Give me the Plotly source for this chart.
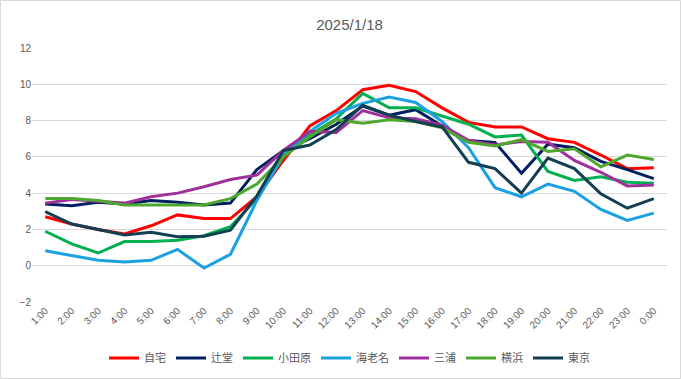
import plotly.graph_objects as go

hours = ["1:00", "2:00", "3:00", "4:00", "5:00", "6:00", "7:00", "8:00", "9:00", "10:00",
         "11:00", "12:00", "13:00", "14:00", "15:00", "16:00", "17:00", "18:00", "19:00",
         "20:00", "21:00", "22:00", "23:00", "0:00"]

jitaku = [2.7, 2.3, 2.0, 1.75, 2.2, 2.8, 2.6, 2.6, 3.8, 5.8, 7.7, 8.55, 9.7, 9.95, 9.6, 8.7,
          7.9, 7.65, 7.65, 7.0, 6.8, 6.1, 5.35, 5.4]
tsujido = [3.4, 3.3, 3.5, 3.4, 3.6, 3.5, 3.35, 3.45, 5.3, 6.35, 7.0, 7.8, 8.8, 8.3, 8.6, 7.7,
           6.9, 6.8, 5.1, 6.7, 6.5, 5.75, 5.3, 4.8]
odawara = [1.9, 1.2, 0.7, 1.33, 1.33, 1.4, 1.65, 2.15, 3.7, 6.0, 7.2, 8.1, 9.5, 8.7, 8.7, 8.25,
           7.8, 7.1, 7.2, 5.2, 4.7, 4.9, 4.6, 4.55]
ebina = [0.82, 0.57, 0.3, 0.2, 0.3, 0.9, -0.13, 0.63, 3.6, 6.1, 7.4, 8.4, 8.95, 9.3, 9.0, 7.95,
         6.5, 4.3, 3.8, 4.5, 4.1, 3.1, 2.5, 2.9]
miura = [3.45, 3.65, 3.55, 3.45, 3.8, 4.0, 4.35, 4.75, 5.0, 6.35, 7.4, 7.35, 8.55, 8.15, 8.1, 7.75,
         6.9, 6.65, 6.85, 6.8, 5.8, 5.15, 4.4, 4.45]
yokohama = [3.7, 3.7, 3.6, 3.35, 3.35, 3.35, 3.35, 3.7, 4.5, 6.0, 7.1, 8.05, 7.85, 8.05, 7.95, 7.6,
            6.8, 6.6, 6.95, 6.3, 6.45, 5.45, 6.1, 5.85]
tokyo = [2.98, 2.3, 2.0, 1.7, 1.85, 1.6, 1.63, 1.96, 3.85, 6.35, 6.65, 7.5, 8.85, 8.3, 7.95, 7.65,
         5.7, 5.35, 4.0, 5.93, 5.35, 3.96, 3.17, 3.7]

series = [
    ("自宅", jitaku, "#ff0000"),
    ("辻堂", tsujido, "#002060"),
    ("小田原", odawara, "#00b050"),
    ("海老名", ebina, "#1ba1e2"),
    ("三浦", miura, "#a0309c"),
    ("横浜", yokohama, "#4ea72e"),
    ("東京", tokyo, "#123f52"),
]

fig = go.Figure()
for name, vals, color in series:
    fig.add_trace(go.Scatter(x=hours, y=vals, name=name, mode="lines",
                             line=dict(color=color, width=3)))

font_family = "Liberation Sans, Noto Sans CJK JP, sans-serif"
L, R, T, B = 32, 14, 48, 77
W, H = 681, 379
pw, ph = W - L - R, H - T - B

fig.update_layout(
    width=W, height=H,
    margin=dict(l=L, r=R, t=T, b=B, autoexpand=False),
    paper_bgcolor="white", plot_bgcolor="white",
    font=dict(family=font_family, color="#595959", size=10),
    title=dict(text="2025/1/18", x=0.5, xanchor="center", xref="paper",
               yref="container", y=1 - 25 / H, yanchor="middle",
               font=dict(size=15, color="#595959", family=font_family)),
    xaxis=dict(type="category", tickangle=-45, showgrid=False, zeroline=False,
               showline=False, ticks="", tickfont=dict(size=10, color="#595959"),
               range=[-0.5, 23.5], automargin=False),
    yaxis=dict(range=[-2, 12], dtick=2, showgrid=True, gridcolor="#d9d9d9", gridwidth=1,
               zeroline=False, showline=False, ticks="", automargin=False,
               tickfont=dict(size=10, color="#595959")),
    legend=dict(orientation="h", x=0.5, xanchor="center", y=-(358 - 302) / ph, yanchor="middle",
                font=dict(size=11, color="#595959", family=font_family),
                itemwidth=30, tracegroupgap=0),
    showlegend=True,
    shapes=[dict(type="rect", xref="paper", yref="paper",
                 x0=-(L - 0.5) / pw, x1=1 + (R - 0.5) / pw,
                 y0=-(B - 0.5) / ph, y1=1 + (T - 0.5) / ph,
                 line=dict(color="#d9d9d9", width=1), layer="below")],
)

fig.write_html("out.html",
               config={"displayModeBar": False},
               post_script="document.body.style.margin='0';document.body.style.padding='0';")
